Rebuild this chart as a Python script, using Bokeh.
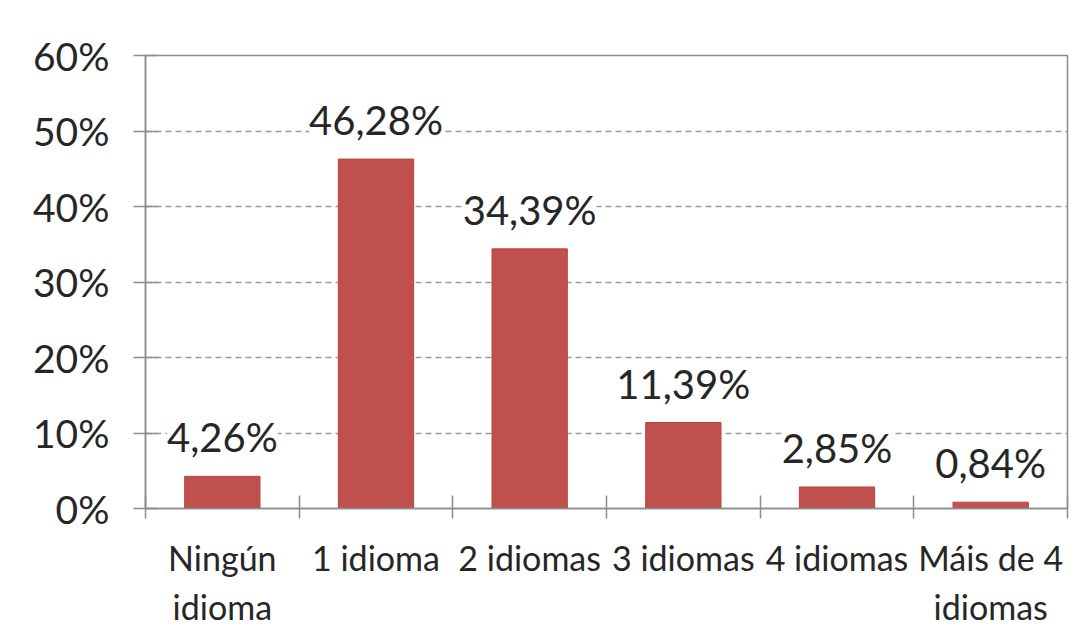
from bokeh.plotting import figure
from bokeh.models import (ColumnDataSource, Range1d, LinearAxis,
                          FixedTicker, LabelSet, PrintfTickFormatter)
from bokeh.core.properties import value
from bokeh.embed import file_html
from bokeh.resources import INLINE

categories = ["Ningún idioma", "1 idioma", "2 idiomas", "3 idiomas", "4 idiomas", "Máis de 4 idiomas"]
tick_text = ["Ningún\nidioma", "1 idioma", "2 idiomas", "3 idiomas", "4 idiomas", "Máis de 4\nidiomas"]
values = [4.26, 46.28, 34.39, 11.39, 2.85, 0.84]
y_ticks = [0, 10, 20, 30, 40, 50, 60]

n = len(categories)
centers = [i + 0.5 for i in range(n)]
bounds = list(range(n + 1))
labels = [f"{v:.2f}".replace(".", ",") + "%" for v in values]
src = ColumnDataSource(dict(x=centers, cat=categories, val=values, lab=labels))

FONT = "Lato"
AX = "#8C8C8C"
TXT = "#262626"

p = figure(width=1080, height=632, output_backend="svg", toolbar_location=None,
           x_range=Range1d(0, n), y_range=Range1d(0, 60), x_axis_location=None)
p.min_border_left = 145
p.min_border_right = 13
p.min_border_top = 55
p.min_border_bottom = 124
p.background_fill_color = "white"
p.border_fill_color = "white"
p.outline_line_color = AX
p.outline_line_width = 1.5

p.vbar(x="x", top="val", width=0.49, source=src, fill_color="#C0504D",
       line_color="#B5443F", line_width=1)

# y axis
ya = p.yaxis[0]
ya.ticker = FixedTicker(ticks=y_ticks)
ya.formatter = PrintfTickFormatter(format="%d%%")
ya.axis_line_color = AX
ya.axis_line_width = 1.5
ya.major_tick_line_color = AX
ya.major_tick_line_width = 1.5
ya.major_tick_out = 12
ya.major_tick_in = 12
ya.minor_tick_line_color = None
ya.major_label_text_font = FONT
ya.major_label_text_font_size = "39px"
ya.major_label_text_color = TXT
ya.major_label_standoff = 24

p.xgrid.grid_line_color = None
p.ygrid.ticker = FixedTicker(ticks=y_ticks[1:-1])
p.ygrid.grid_line_color = "#9A9A9A"
p.ygrid.grid_line_dash = "6 4"
p.ygrid.grid_line_width = 1.3

# x axis: labels at category centres, crossing ticks at category boundaries
xa = LinearAxis(ticker=FixedTicker(ticks=centers, minor_ticks=bounds))
xa.major_label_overrides = dict(zip(centers, tick_text))
xa.axis_line_color = AX
xa.axis_line_width = 1.5
xa.major_tick_line_color = None
xa.major_tick_in = 0
xa.major_tick_out = 0
xa.minor_tick_line_color = AX
xa.minor_tick_line_width = 1.5
xa.minor_tick_in = 13
xa.minor_tick_out = 10
xa.major_label_text_font = FONT
xa.major_label_text_font_size = "34px"
xa.major_label_text_color = TXT
xa.major_label_standoff = 18
p.add_layout(xa, "below")

ls = LabelSet(x="x", y="val", text="lab", source=src, text_align="center",
              text_baseline="alphabetic", y_offset=24, text_font=value(FONT),
              text_font_size=value("40px"), text_color=TXT,
              background_fill_color="white")
p.add_layout(ls)

open("out.html", "w").write(file_html(p, INLINE))
